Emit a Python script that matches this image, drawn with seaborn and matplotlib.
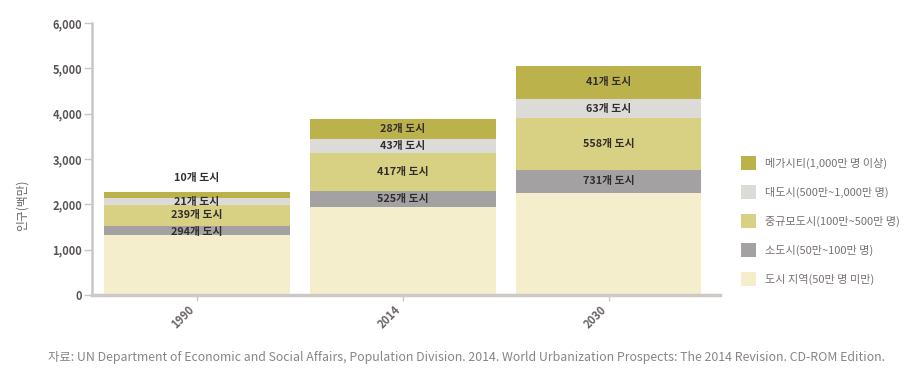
import matplotlib
matplotlib.use("Agg")
import matplotlib.pyplot as plt
import seaborn as sns
import numpy as np
import pandas as pd
from matplotlib.patches import Patch

# ---- data (millions of people / number of cities) ----
years = ["1990", "2014", "2030"]
categories = [
    "도시 지역(50만 명 미만)",
    "소도시(50만~100만 명)",
    "중규모도시(100만~500만 명)",
    "대도시(500만~1,000만 명)",
    "메가시티(1,000만 명 이상)",
]
pop_small = [1316, 1936, 2257]
pop_500k_1m = [207, 363, 509]
pop_1m_5m = [462, 827, 1128]
pop_5m_10m = [145, 307, 434]
pop_mega = [153, 453, 730]
cities_500k_1m = [294, 525, 731]
cities_1m_5m = [239, 417, 558]
cities_5m_10m = [21, 43, 63]
cities_mega = [10, 28, 41]
yticks = [0, 1000, 2000, 3000, 4000, 5000, 6000]

colors = ["#f4eecd", "#a3a1a2", "#d8d083", "#dcdbd8", "#bcb24c"]

sns.set_theme(style="white")
plt.rcParams["font.family"] = ["Noto Sans CJK KR", "DejaVu Sans"]

fig = plt.figure(figsize=(9.23, 3.82), dpi=100)
ax = fig.add_axes([92 / 923, 1 - 295 / 382, (720 - 92) / 923, (295 - 23) / 382])

layers = [pop_small, pop_500k_1m, pop_1m_5m, pop_5m_10m, pop_mega]
cum = np.cumsum(np.array(layers), axis=0)
# draw cumulative totals from top layer down so each visible band is one layer
for i in range(len(layers) - 1, -1, -1):
    df = pd.DataFrame({"year": years, "value": cum[i]})
    sns.barplot(data=df, x="year", y="value", color=colors[i], width=0.9,
                saturation=1, linewidth=0, ax=ax)

# segment labels
label_sets = [None, cities_500k_1m, cities_1m_5m, cities_5m_10m, cities_mega]
for i in range(1, len(layers)):
    for j in range(len(years)):
        lo = cum[i - 1][j]
        hi = cum[i][j]
        yc = (lo + hi) / 2
        if i == 4 and j == 0:
            yc = hi + 300
        elif i == 1 and j == 0:
            yc = lo + 0.25 * (hi - lo) + 20
        ax.text(j, yc, f"{label_sets[i][j]}개 도시", ha="center", va="center",
                fontsize=7.8, fontweight="bold", color="#332e2e")

ax.set_ylim(0, 6000)
ax.set_xlim(-0.51, 2.54)
ax.set_yticks(yticks)
ax.set_yticklabels([f"{v:,}" for v in yticks], fontsize=8, fontweight="bold",
                   color="#5a5557")
ax.set_xlabel("")
ax.set_ylabel("인구(백만)", fontsize=8.5, color="#6a6466")
ax.yaxis.set_label_coords(-0.1, 0.33)
for lab in ax.get_xticklabels():
    lab.set_rotation(45)
    lab.set_ha("right")
    lab.set_fontsize(8)
    lab.set_fontweight("bold")
    lab.set_color("#6b6566")

for s in ["top", "right"]:
    ax.spines[s].set_visible(False)
ax.spines["left"].set_color("#cbc6c6")
ax.spines["left"].set_linewidth(1.8)
ax.spines["bottom"].set_color("#cdc9c6")
ax.spines["bottom"].set_linewidth(2.5)
ax.tick_params(axis="y", length=6, width=1, color="#cbc6c6", pad=1, left=True)
ax.tick_params(axis="x", length=4, width=1, color="#cdc9c6", pad=2, bottom=True)

handles = [Patch(facecolor=colors[i], edgecolor="none", label=categories[i])
           for i in range(len(categories) - 1, -1, -1)]
fig.legend(handles=handles, loc="center left",
           bbox_to_anchor=(735 / 923, 1 - 221 / 382), frameon=False,
           fontsize=8, handlelength=1.4, handleheight=1.65, labelspacing=1.3,
           handletextpad=0.8, borderpad=0, labelcolor="#77716f")

fig.text(48 / 923, 1 - 357 / 382,
         "자료: UN Department of Economic and Social Affairs, Population Division. 2014. "
         "World Urbanization Prospects: The 2014 Revision. CD-ROM Edition.",
         fontsize=8.9, color="#8a8486", ha="left", va="center")

fig.savefig("out.png", dpi=100, facecolor="white")
